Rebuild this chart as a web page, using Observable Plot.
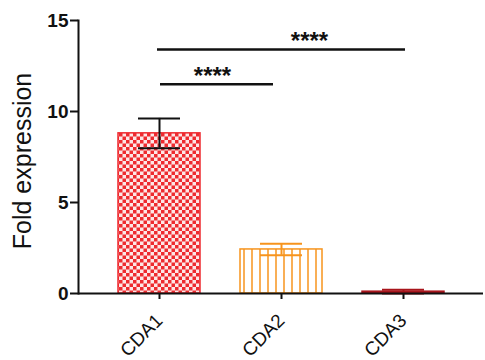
<!DOCTYPE html>
<html><head><meta charset="utf-8">
<script src="https://cdn.jsdelivr.net/npm/d3@7"></script>
<script src="https://cdn.jsdelivr.net/npm/@observablehq/plot@0.6"></script>
<style>body{margin:0;background:#fff}</style>
</head><body><div id="chart"></div>
<script>
// data
const categories = ["CDA1", "CDA2", "CDA3"];
const means = [8.8, 2.42, 0.1];
const errors = [0.82, 0.32, 0.1];
const compFrom = ["CDA1", "CDA1"];
const compTo = ["CDA3", "CDA2"];
const compLevel = [13.4, 11.5];
const compLabel = ["****", "****"];
const yTicks = [0, 5, 10, 15];
const yLabel = "Fold expression";

// styles
const barFills = ["url(#checker)", "url(#vstripes)", "#a8141b"];
const barStrokes = ["#ee2a2f", "#f7941d", "#a8141b"];
const errColors = ["#111111", "#f7941d", "#a8141b"];

const rows = categories.map((c, i) => ({name: c, mean: means[i], lo: means[i] - errors[i], hi: means[i] + errors[i], i}));
const comps = compFrom.map((f, i) => ({from: f, to: compTo[i], y: compLevel[i], label: compLabel[i]}));

const svg = Plot.plot({
  width: 485, height: 360,
  marginTop: 20, marginBottom: 67, marginLeft: 78, marginRight: 2,
  style: {fontFamily: "'Liberation Sans', Arial, sans-serif", background: "white", color: "#111"},
  x: {domain: categories, paddingInner: 0.33, paddingOuter: 0.32},
  y: {domain: [0, 15]},
  color: {type: "identity"},
  marks: [
    Plot.barY(rows, {x: "name", y: "mean", fill: d => barFills[d.i], stroke: d => barStrokes[d.i], strokeWidth: 1.5}),
    Plot.ruleX(rows, {x: "name", y1: "lo", y2: "hi", stroke: d => errColors[d.i], strokeWidth: 2}),
    Plot.tickY(rows, {x: "name", y: "hi", stroke: d => errColors[d.i], strokeWidth: 2, insetLeft: 20, insetRight: 20}),
    Plot.tickY(rows, {x: "name", y: "lo", stroke: d => errColors[d.i], strokeWidth: 2, insetLeft: 20, insetRight: 20}),
    Plot.ruleY(comps.slice(0, 1), {x1: "from", x2: "to", y: "y", strokeWidth: 2.5, stroke: "#111", insetLeft: 39, insetRight: 39}),
    Plot.ruleY(comps.slice(1, 2), {x1: "from", x2: "to", y: "y", strokeWidth: 2.5, stroke: "#111", insetLeft: 42, insetRight: 49}),
    Plot.text(comps.slice(0, 1), {x: "to", y: "y", text: "label", dx: -94, dy: -8, fontSize: 24, fontWeight: "bold", fill: "#111"}),
    Plot.text(comps.slice(1, 2), {x: "from", y: "y", text: "label", dx: 53, dy: -8, fontSize: 24, fontWeight: "bold", fill: "#111"}),
    Plot.frame({anchor: "left", strokeWidth: 2, stroke: "#111"}),
    Plot.ruleY([0], {strokeWidth: 2, stroke: "#111"}),
    Plot.axisY({ticks: yTicks, tickSize: 8, tickPadding: 2, fontSize: 19, fontWeight: "bold", label: null, strokeWidth: 2}),
    Plot.axisX({tickRotate: -45, tickSize: 6, tickPadding: 18, fontSize: 19, label: null, strokeWidth: 2}),
    Plot.text([yLabel], {frameAnchor: "left", textAnchor: "middle", rotate: -90, dx: -56, dy: 4, fontSize: 25, fill: "#111"})
  ]
});

const defs = document.createElementNS("http://www.w3.org/2000/svg", "defs");
defs.innerHTML = `
<pattern id="checker" patternUnits="userSpaceOnUse" width="7" height="7">
  <rect width="7" height="7" fill="#fde6e6"/>
  <rect x="0" y="0" width="3.5" height="3.5" fill="#ee2a2f"/>
  <rect x="3.5" y="3.5" width="3.5" height="3.5" fill="#ee2a2f"/>
</pattern>
<pattern id="vstripes" patternUnits="userSpaceOnUse" width="8" height="10">
  <rect width="8" height="10" fill="#ffffff"/>
  <line x1="4" y1="0" x2="4" y2="10" stroke="#f7941d" stroke-width="1.5"/>
</pattern>`;
svg.insertBefore(defs, svg.firstChild);
document.getElementById("chart").appendChild(svg);
</script>
</body></html>
